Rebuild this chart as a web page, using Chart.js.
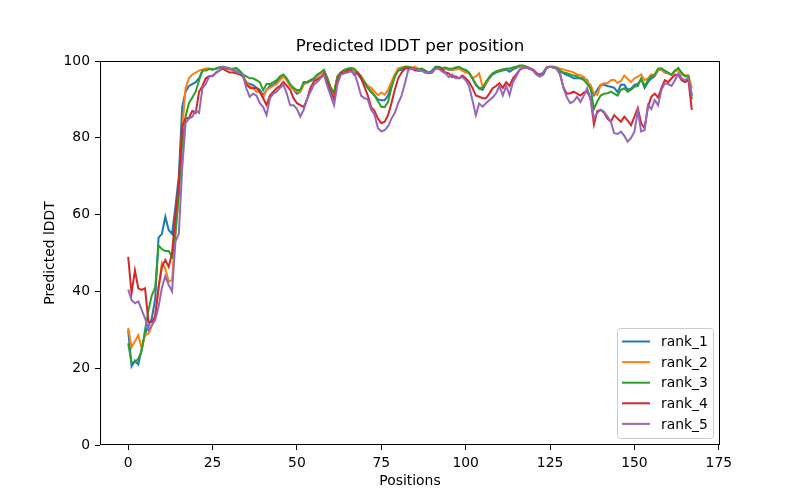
<!DOCTYPE html>
<html>
<head>
<meta charset="utf-8">
<script src="https://cdn.jsdelivr.net/npm/chart.js@4.4.0/dist/chart.umd.min.js"></script>
<style>
  body { margin: 0; background: #fff; }
  #wrap { width: 800px; height: 500px; }
</style>
</head>
<body>
<div id="wrap"><canvas id="lddtChart" width="800" height="500"></canvas></div>
<script>
// predicted lDDT per residue
var seriesNames = ["rank_1", "rank_2", "rank_3", "rank_4", "rank_5"];
var seriesColors = ["#1f77b4", "#ff7f0e", "#2ca02c", "#d62728", "#9467bd"];
var xTicks = [0, 25, 50, 75, 100, 125, 150, 175];
var yTicks = [0, 20, 40, 60, 80, 100];

var rank1 = [30, 20.5, 22, 21, 25, 29, 31, 33, 38, 54,
  55, 59.5, 56, 55, 62, 70, 88, 92, 93.5, 94,
  94.5, 95.5, 97.5, 98, 98, 97.8, 98, 98.3, 98.5, 98.2,
  98, 97.8, 97.5, 97, 96, 94.5, 94, 93.8, 93, 92.5,
  91, 92.5, 93.5, 93.8, 94.5, 95.5, 96, 95, 93.5, 92.5,
  91.5, 92, 94, 94.3, 94.8, 95.2, 96, 96.8, 97.5, 95.5,
  93, 91.5, 95.8, 97, 97.5, 97.8, 98, 97.5, 96.5, 95.5,
  94.5, 93, 92, 91, 90, 89.8, 89.8, 91, 93.8, 96,
  97.5, 97.7, 98.2, 98.3, 98, 98, 97.5, 97.8, 97.3, 97,
  97.2, 98.2, 98.3, 98, 98, 97.7, 97.7, 98, 98.2, 97.8,
  97.5, 96.8, 95.5, 93.8, 92.8, 92.5, 94, 95.5, 96.5, 97,
  97.3, 97.5, 97.8, 97.2, 97.8, 98.2, 98.5, 98.7, 98.3, 98,
  97.5, 96.5, 96, 96.5, 98.2, 98.5, 98.3, 98, 97.3, 96.8,
  96.3, 96, 95.5, 95.5, 95.6, 95.5, 95, 92.8, 91.1, 92.5,
  93.8, 93.8, 93.5, 93.3, 93, 91.9, 93.8, 93.8, 92.5, 92.8,
  93.8, 94, 95.3, 93, 94.5, 95.5, 96, 97.7, 97.7, 97,
  96.8, 96.4, 97.5, 97.8, 96.8, 96, 96, 91];

var rank2 = [30.5, 25.5, 27, 28.6, 25.2, 28.6, 29, 31, 34, 41,
  47.4, 46, 42.5, 43, 55, 66, 82, 93, 95.5, 96.5,
  97, 97.5, 97.8, 98, 97.8, 98, 98, 98.3, 98.3, 98,
  97.8, 97.8, 97.3, 97, 96, 94.5, 93.5, 93, 92, 92,
  90.5, 92.5, 93, 93.5, 94, 95, 96, 95, 93.5, 92.5,
  92, 92, 94, 94.5, 95, 95.5, 96, 96.8, 97.5, 95.5,
  93, 92, 96, 97, 97.5, 98, 98, 97.6, 96.8, 96,
  94.6, 93.5, 93, 92, 91.1, 91.8, 91.2, 92.5, 94.6, 96.5,
  98.1, 98.3, 98.5, 98.5, 98.3, 98.5, 98, 98, 97.5, 97,
  97, 98.2, 98.3, 98, 98, 97.8, 97.7, 97.8, 98, 97.5,
  97, 96.8, 95.5, 96, 96.8, 93.3, 94, 95.8, 96.8, 97.3,
  97.5, 97.8, 98, 98, 98.2, 98.5, 98.5, 98.7, 98.5, 98.2,
  97.7, 96.8, 96.4, 97, 98.3, 98.5, 98.5, 98.3, 98, 97.8,
  97.5, 97.3, 97, 96.5, 96.3, 95.8, 94.5, 93.8, 91.6, 91.2,
  93.8, 94.2, 94.2, 95, 95.1, 94.3, 94.8, 96.2, 95.3, 94.5,
  95.5, 95.9, 96.5, 95, 95.5, 96.5, 96.2, 97.7, 97.7, 97.2,
  96.8, 96.5, 97.3, 97.7, 96.4, 96.3, 96.3, 93];

var rank3 = [26.5, 21.5, 21.5, 22.5, 24.5, 30, 35, 39, 41, 52,
  51, 50.5, 50.5, 49, 55, 65, 78, 85.5, 89, 90.5,
  92, 95, 97.5, 97.5, 98, 97.8, 98, 98.3, 98.5, 98.3,
  98, 98, 98.2, 97.5, 96.5, 96, 95.5, 95.5, 95, 94.5,
  92.4, 94, 94, 94.5, 95, 96, 96.5, 95.5, 94, 93,
  92.4, 92.5, 94.5, 94.5, 95, 95.5, 96.5, 97, 97.7, 95.5,
  93, 91.5, 96, 97, 97.7, 98, 98.2, 98, 97, 96,
  94.6, 93, 92, 91, 89.5, 88.1, 88, 89.3, 93, 96,
  97.5, 98.1, 98.5, 98.5, 98.2, 98, 97.8, 98, 97.5, 97,
  97.5, 98.5, 98.5, 98.2, 98.3, 98, 98, 98.3, 98.5, 98,
  97.7, 97, 95.5, 94, 93, 93, 94.6, 95.8, 96.8, 97.2,
  97.6, 97.8, 98, 98, 98.3, 98.5, 98.8, 98.8, 98.5, 98,
  97.7, 96.8, 96.2, 96.8, 98.3, 98.5, 98.5, 98.2, 97.5, 97,
  96.8, 96.5, 96.2, 96, 95.5, 95, 94, 92.9, 87.5, 89.5,
  91, 91.5, 91.6, 92, 91.5, 91, 92.5, 92.9, 92, 92.5,
  93.3, 93.5, 95.5, 93.5, 95, 96, 96.5, 98, 98.1, 97.5,
  97, 96.4, 97.5, 98.2, 97, 96, 96, 90];

var rank4 = [49, 39.5, 45.5, 40.8, 40.4, 40.8, 32, 32, 33.4, 41,
  46.4, 48.2, 46.4, 50, 60, 68, 83, 85, 85.2, 87,
  86.5, 92, 93.5, 95.5, 96, 96, 97, 97.5, 98, 97.5,
  97, 97, 96.8, 96.5, 96, 94, 93, 92.9, 93, 92,
  90.3, 88.5, 91, 92, 92.9, 93.5, 94.6, 93.5, 92.5, 90.3,
  89, 88.5, 88, 90, 93, 94.6, 95.2, 95.8, 96.8, 94.5,
  92, 90, 95, 96.8, 97, 97.5, 97.7, 96.4, 97, 95.5,
  93.3, 91, 88, 87, 85, 83.8, 84.2, 85.9, 89, 92.5,
  95.5, 97, 98, 98.2, 98, 97.5, 97.5, 97.5, 97, 96.8,
  97, 98, 98.2, 97.8, 97, 96.8, 95.8, 96, 95.5, 96.2,
  95.5, 94.6, 93, 91, 90.7, 90.3, 90.3, 91.5, 92.9, 93.5,
  94.2, 93, 94.5, 93.5, 95.5, 96.5, 97.7, 98.2, 98.3, 98,
  97.7, 96.8, 96.4, 97, 98.3, 98.5, 98.3, 98, 96.5, 93,
  91.5, 91.6, 92, 91.5, 91, 91.8, 92, 90.3, 83.5, 87,
  87.3, 86.5, 85, 84.2, 85.9, 85, 84.2, 85.5, 84.5, 83.3,
  85.5, 87.7, 83.8, 82.5, 88, 90.7, 91.5, 90.5, 93, 95,
  94.5, 95.5, 96.4, 96.4, 95, 94.5, 95, 87.3];

var rank5 = [40.5, 37.8, 36.9, 37.4, 35.2, 33, 29.9, 31.2, 32.5, 36,
  41, 44, 41.7, 40, 53, 55, 72, 83.8, 85, 85.5,
  87.2, 86.5, 92.9, 94, 96, 96.2, 96.8, 97.5, 98.5, 98.3,
  98.2, 97.5, 97.2, 96.8, 96.4, 92.9, 90.7, 91.5, 91, 89,
  88, 85.9, 90.3, 91.5, 92, 93, 93.8, 91.5, 88.5, 88.5,
  87.5, 85.5, 87.3, 90, 92, 93.8, 94.5, 95.5, 96.4, 93.5,
  91, 88.5, 94, 96.4, 96.8, 97, 97.3, 96.8, 94.2, 91,
  90.3, 90, 87.3, 86, 82.5, 81.7, 82, 83, 85, 86.5,
  89, 91, 94.2, 97.7, 98, 98, 97.5, 97.5, 97, 97,
  97, 98, 98, 97.3, 96.8, 95.8, 96.5, 95.5, 95.5, 95.8,
  95, 93.5, 89.8, 85.9, 88.9, 88.1, 89, 89.8, 90.5, 91.6,
  93.5, 91, 93.5, 91.1, 94.5, 96, 97.7, 98.2, 98.3, 98,
  97.5, 96.5, 96, 97, 98.3, 98.5, 98.3, 98, 96.4, 92.9,
  90.5, 89, 89.5, 90.7, 89.3, 91, 92.9, 90, 85, 86.5,
  87.3, 86.8, 85.5, 84.2, 81.2, 81, 81.6, 80.5, 79, 80,
  81.6, 87, 81.6, 82, 88.5, 87.5, 89.8, 88.5, 92.5, 94.2,
  94, 93.5, 95, 96.8, 95.5, 95, 95.5, 91];

var allSeries = [rank1, rank2, rank3, rank4, rank5];

var FONT = "DejaVu Sans";

// title, frame and legend drawn the matplotlib way
var mplExtras = {
  id: "mplExtras",
  afterDraw: function(chart) {
    var ctx = chart.ctx;
    var a = chart.chartArea;
    ctx.save();
    ctx.strokeStyle = "#000";
    ctx.lineWidth = 1;
    ctx.strokeRect(a.left + 0.5, a.top + 0.5, a.right - a.left - 1, a.bottom - a.top - 1);

    ctx.fillStyle = "#000";
    ctx.font = "16.7px '" + FONT + "'";
    ctx.textAlign = "center";
    ctx.textBaseline = "middle";
    ctx.fillText("Predicted lDDT per position", (a.left + a.right) / 2, 47);

    // legend box lower right
    var bx = 617, by = 328, bw = 96, bh = 110;
    ctx.beginPath();
    ctx.roundRect(bx + 0.5, by + 0.5, bw, bh, 3);
    ctx.fillStyle = "rgba(255,255,255,0.8)";
    ctx.fill();
    ctx.strokeStyle = "#cccccc";
    ctx.stroke();

    ctx.font = "13.9px '" + FONT + "'";
    ctx.textAlign = "left";
    chart.data.datasets.forEach(function(ds, k) {
      var yy = 341.5 + k * 20.6;
      ctx.strokeStyle = ds.borderColor;
      ctx.lineWidth = 2;
      ctx.beginPath();
      ctx.moveTo(622, yy);
      ctx.lineTo(650, yy);
      ctx.stroke();
      ctx.fillStyle = "#000";
      ctx.fillText(ds.label, 661, yy + 1);
    });
    ctx.restore();
  }
};

var datasets = seriesNames.map(function(name, i) {
  return {
    label: name,
    data: allSeries[i].map(function(v, p) { return { x: p, y: v }; }),
    borderColor: seriesColors[i],
    backgroundColor: seriesColors[i],
    borderWidth: 2,
    pointRadius: 0,
    tension: 0,
    fill: false,
    order: seriesNames.length - 1 - i
  };
});

new Chart(document.getElementById("lddtChart"), {
  type: "line",
  data: { datasets: datasets },
  options: {
    responsive: false,
    animation: false,
    layout: { padding: { top: 61, right: 80, left: 0, bottom: 0 } },
    plugins: {
      legend: { display: false },
      title: { display: false },
      tooltip: { enabled: false }
    },
    scales: {
      x: {
        type: "linear",
        min: -8.35,
        max: 175.35,
        afterBuildTicks: function(scale) {
          scale.ticks = xTicks.map(function(v) { return { value: v }; });
        },
        afterFit: function(scale) { scale.height = 55; },
        grid: { drawOnChartArea: false, drawTicks: true, tickLength: 5, tickColor: "#000", tickWidth: 1 },
        border: { display: false },
        ticks: { color: "#000", padding: 5, maxRotation: 0, font: { family: FONT, size: 13.9 } },
        title: { display: true, text: "Positions", color: "#000", font: { family: FONT, size: 13.9 }, padding: { top: 0, bottom: 10.6 } }
      },
      y: {
        min: 0,
        max: 100,
        afterBuildTicks: function(scale) {
          scale.ticks = yTicks.map(function(v) { return { value: v }; });
        },
        afterFit: function(scale) { scale.width = 100; },
        grid: { drawOnChartArea: false, drawTicks: true, tickLength: 5, tickColor: "#000", tickWidth: 1 },
        border: { display: false },
        ticks: { color: "#000", padding: 5, font: { family: FONT, size: 13.9 } },
        title: { display: true, text: "Predicted lDDT", color: "#000", font: { family: FONT, size: 13.9 }, padding: { top: 41.6, bottom: 0 } }
      }
    }
  },
  plugins: [mplExtras]
});
</script>
</body>
</html>
